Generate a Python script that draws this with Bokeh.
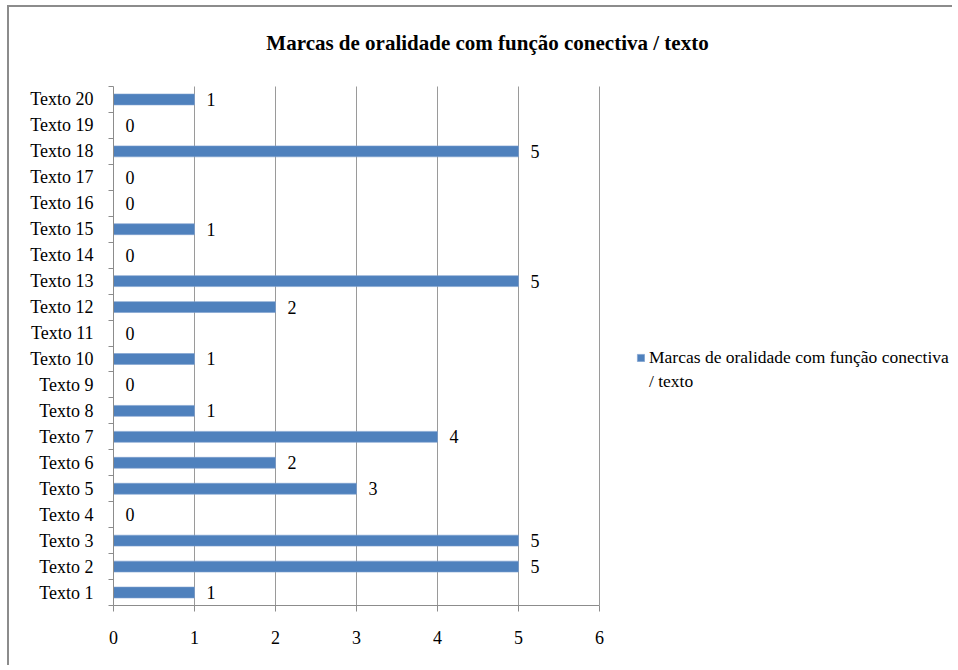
from bokeh.plotting import figure
from bokeh.models import (ColumnDataSource, LabelSet, Label, Legend, LegendItem,
                          FixedTicker, Range1d)
from bokeh.embed import file_html
from bokeh.resources import INLINE

categories = [f"Texto {i}" for i in range(1, 21)]
values = [1, 5, 5, 0, 3, 2, 4, 1, 0, 1, 0, 2, 5, 0, 1, 0, 0, 5, 0, 1]
x_ticks = [0, 1, 2, 3, 4, 5, 6]
title_text = "Marcas de oralidade com função conectiva / texto"
series_line1 = "Marcas de oralidade com função conectiva"
series_line2 = "/ texto"

FONT = "Liberation Serif"
GRAY = "#8c8c8c"
BAR = "#4F81BD"

n = len(categories)
ypos = list(range(1, n + 1))
src = ColumnDataSource(dict(y=ypos, v=values, lbl=[str(v) for v in values]))

# layout (pixels)
W, H = 945, 660
ML, MB = 104, 62
FRAME_W = W - ML
FRAME_H = H - MB
AXIS_W, AXIS_H = 486, 519          # pixel extent of the value axis / category axis
x_max = x_ticks[-1]
x_end = x_max * FRAME_W / AXIS_W
y_end = 0.5 + n * FRAME_H / AXIS_H

p = figure(width=W, height=H, output_backend="svg", toolbar_location=None,
           x_range=Range1d(0, x_end), y_range=Range1d(0.5, y_end),
           min_border_left=ML, min_border_right=0, min_border_top=0,
           min_border_bottom=MB)
p.styles = {"border-left": "2px solid #8c8c8c", "border-top": "2px solid #8c8c8c",
            "box-sizing": "border-box", "margin-left": "7px", "margin-top": "5px"}
p.outline_line_color = None
p.background_fill_color = "white"
p.border_fill_color = "white"
p.grid.visible = False

# vertical gridlines limited to the category extent
p.segment(x0=x_ticks[1:], x1=x_ticks[1:], y0=[0.5] * (len(x_ticks) - 1),
          y1=[n + 0.5] * (len(x_ticks) - 1), line_color="#9a9a9a", line_width=1)

r = p.hbar(y="y", right="v", left=0, height=0.42, source=src,
           fill_color=BAR, line_color="#7da0cf", line_width=0.6)
r2 = p.hbar(y="y", right="v", left=0, height=0.42, source=src,
            fill_alpha=0, line_alpha=0)

labels = LabelSet(x="v", y="y", text="lbl", source=src, x_offset=12,
                  text_baseline="middle", text_align="left",
                  text_font=FONT, text_font_size="18px", text_color="black")
p.add_layout(labels)

# axes
p.xaxis.bounds = (0, x_max)
p.xaxis.ticker = FixedTicker(ticks=x_ticks)
p.xaxis.axis_line_color = GRAY
p.xaxis.major_tick_line_color = GRAY
p.xaxis.major_tick_out = 6
p.xaxis.major_tick_in = 0
p.xaxis.minor_tick_line_color = None
p.xaxis.major_label_standoff = 19
p.xaxis.major_label_text_font = FONT
p.xaxis.major_label_text_font_size = "18px"
p.xaxis.major_label_text_color = "black"

p.yaxis.bounds = (0.5, n + 0.5)
p.yaxis.ticker = FixedTicker(ticks=ypos, minor_ticks=[y - 0.5 for y in ypos] + [n + 0.5])
p.yaxis.major_label_overrides = {y: c for y, c in zip(ypos, categories)}
p.yaxis.axis_line_color = GRAY
p.yaxis.major_tick_line_color = None
p.yaxis.minor_tick_line_color = GRAY
p.yaxis.minor_tick_out = 5
p.yaxis.minor_tick_in = 0
p.yaxis.major_label_standoff = 14
p.yaxis.major_label_text_font = FONT
p.yaxis.major_label_text_font_size = "18px"
p.yaxis.major_label_text_color = "black"

# title
p.add_layout(Label(x=374, y=563, x_units="screen", y_units="screen", text=title_text,
                   text_font=FONT, text_font_size="21px", text_font_style="bold",
                   text_align="center", text_baseline="middle", text_color="black"))

# legend
legend = Legend(items=[LegendItem(label=series_line1, renderers=[r]),
                       LegendItem(label=series_line2, renderers=[r2])],
                location=(523, 212), border_line_color=None,
                background_fill_alpha=0, label_text_font=FONT,
                label_text_font_size="17.5px", label_text_color="black",
                glyph_width=9, glyph_height=9, label_height=24,
                label_standoff=4, padding=0, margin=0, spacing=0)
p.add_layout(legend)

open("out.html", "w").write(file_html(p, INLINE))
